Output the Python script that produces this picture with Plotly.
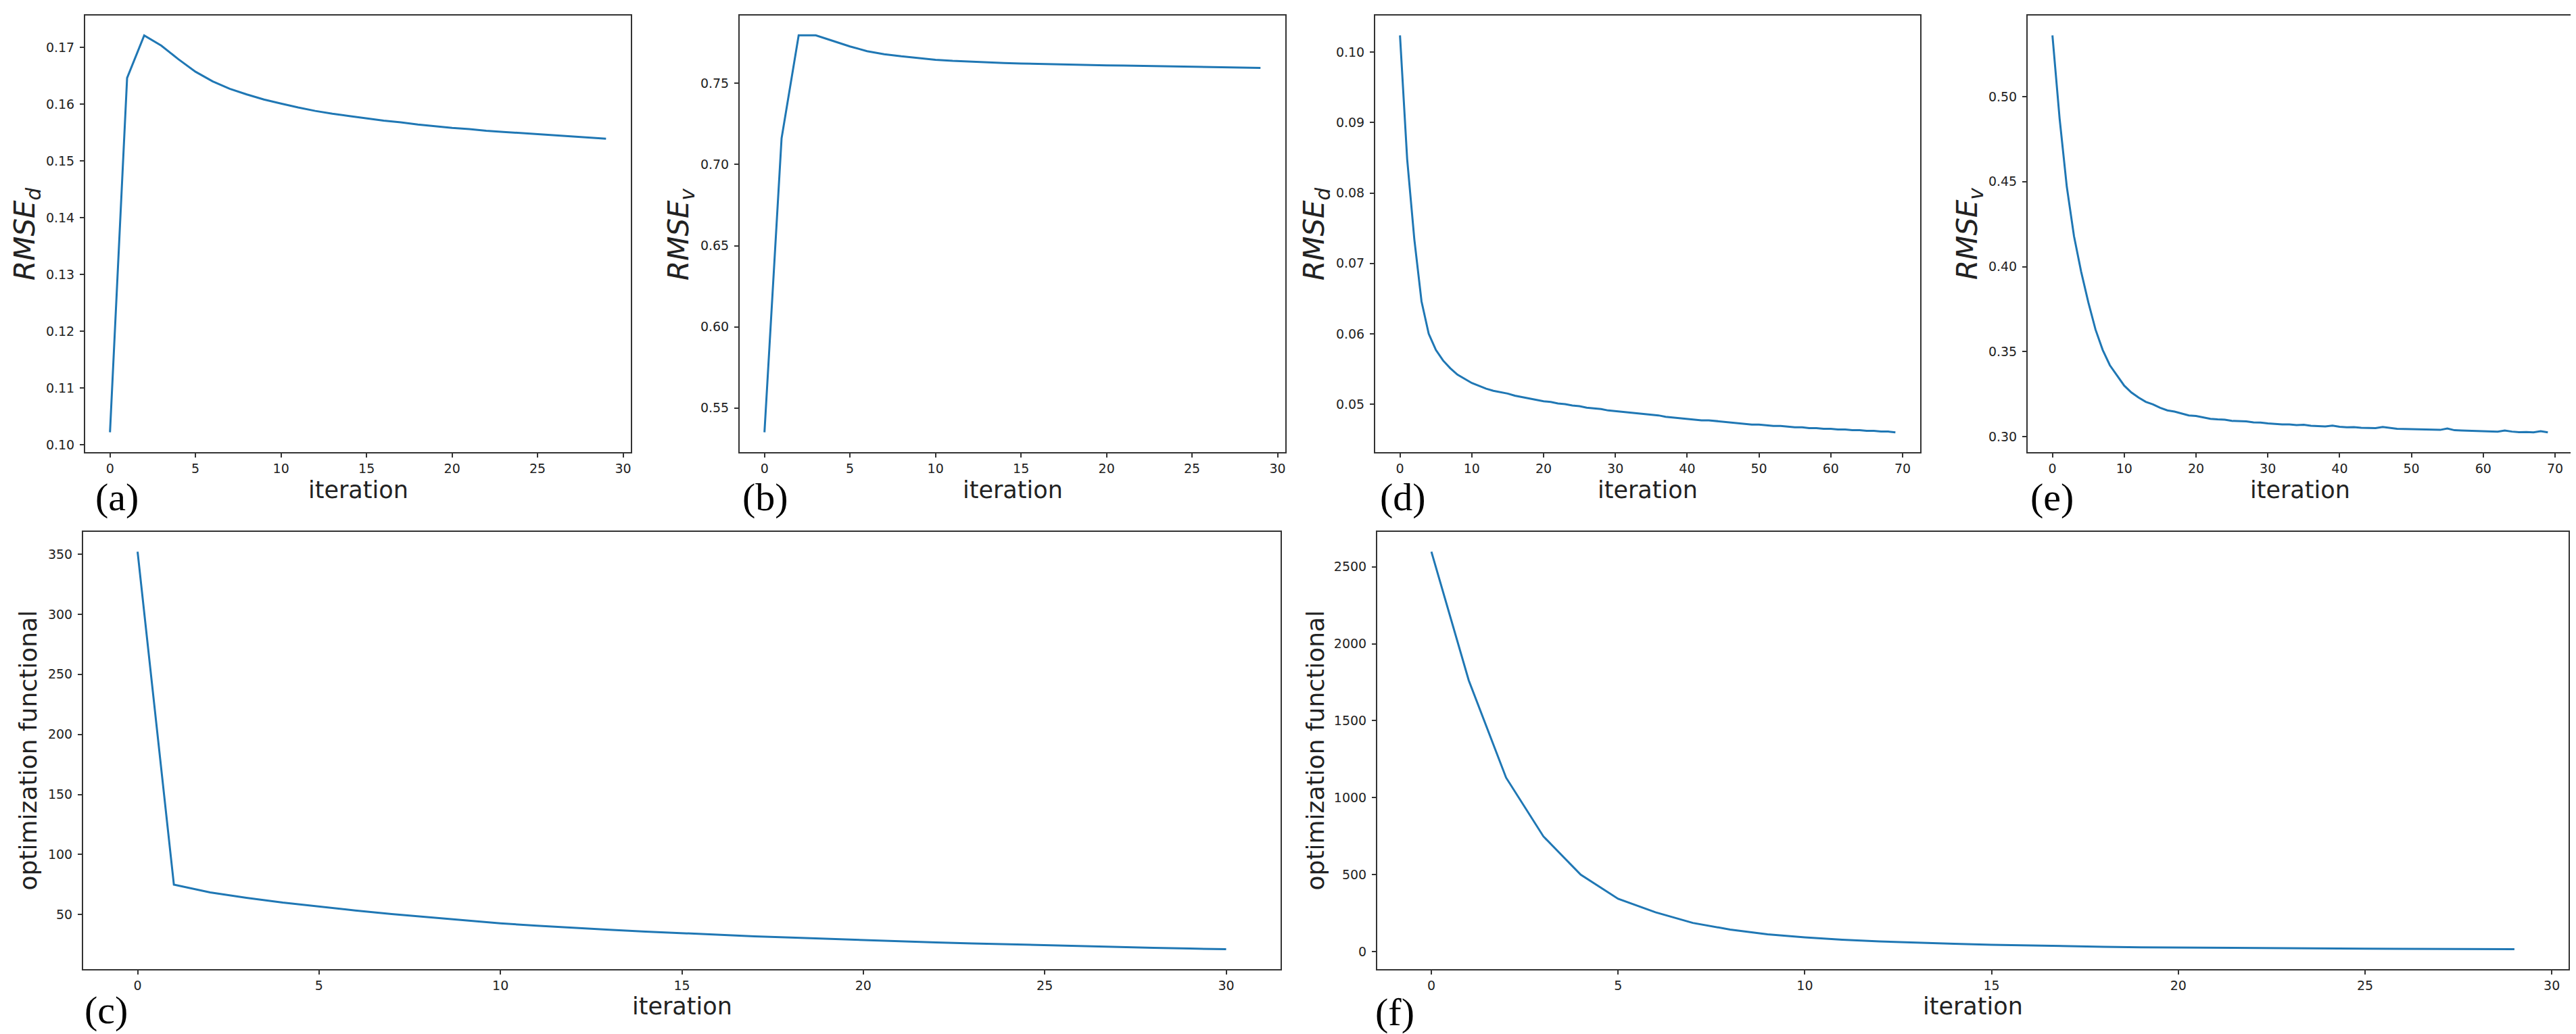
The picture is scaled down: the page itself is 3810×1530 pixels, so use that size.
import plotly.graph_objects as go

W, H = 3810, 1530

# ---------------- data ----------------
iter_a = list(range(30))
rmse_d_a = [0.1022, 0.1646, 0.1721, 0.1703, 0.1679, 0.1657, 0.1640, 0.1627, 0.1617, 0.1608,
            0.1601, 0.1594, 0.1588, 0.1583, 0.1579, 0.1575, 0.1571, 0.1568, 0.1564, 0.1561,
            0.1558, 0.1556, 0.1553, 0.1551, 0.1549, 0.1547, 0.1545, 0.1543, 0.1541, 0.1539]

iter_b = list(range(30))
rmse_v_b = [0.5351, 0.7161, 0.7795, 0.7795, 0.7761, 0.7727, 0.7698, 0.7679, 0.7666, 0.7654,
            0.7645, 0.7638, 0.7633, 0.7628, 0.7625, 0.7622, 0.7619, 0.7617, 0.7614, 0.7612,
            0.7610, 0.7609, 0.7607, 0.7606, 0.7604, 0.7603, 0.7601, 0.7599, 0.7597, 0.7595]

iter_d = list(range(70))
rmse_d_d = [0.1024, 0.0848, 0.0734, 0.0646, 0.0600, 0.0577, 0.0562, 0.0551, 0.0542, 0.0536,
            0.0530, 0.0526, 0.0522, 0.0519, 0.0517, 0.0515, 0.0512, 0.0510, 0.0508, 0.0506,
            0.0504, 0.0503, 0.0501, 0.0500, 0.0498, 0.0497, 0.0495, 0.0494, 0.0493, 0.0491,
            0.0490, 0.0489, 0.0488, 0.0487, 0.0486, 0.0485, 0.0484, 0.0482, 0.0481, 0.0480,
            0.0479, 0.0478, 0.0477, 0.0477, 0.0476, 0.0475, 0.0474, 0.0473, 0.0472, 0.0471,
            0.0471, 0.0470, 0.0469, 0.0469, 0.0468, 0.0467, 0.0467, 0.0466, 0.0466, 0.0465,
            0.0465, 0.0464, 0.0464, 0.0463, 0.0463, 0.0462, 0.0462, 0.0461, 0.0461, 0.0460]

iter_e = list(range(70))
rmse_v_e = [0.536, 0.487, 0.447, 0.418, 0.397, 0.379, 0.363, 0.351, 0.342, 0.336,
            0.330, 0.326, 0.323, 0.3205, 0.319, 0.317, 0.3155, 0.3148, 0.3138, 0.3125,
            0.3122, 0.3115, 0.3105, 0.3102, 0.3100, 0.3093, 0.3090, 0.3090, 0.3084, 0.3083,
            0.3078, 0.3075, 0.3072, 0.3072, 0.3068, 0.3070, 0.3064, 0.3062, 0.3060, 0.3065,
            0.3058, 0.3055, 0.3056, 0.3052, 0.3052, 0.3050, 0.3057, 0.3050, 0.3046, 0.3045,
            0.3044, 0.3043, 0.3045, 0.3041, 0.3040, 0.3048, 0.3038, 0.3036, 0.3035, 0.3034,
            0.3034, 0.3033, 0.3030, 0.3036, 0.3030, 0.3027, 0.3028, 0.3026, 0.3032, 0.3026]

iter_c = list(range(31))
functional_c = [352, 75.0, 68.5, 64.0, 60.0, 56.6, 53.5, 50.5, 47.8, 45.2,
                42.8, 40.8, 39.0, 37.4, 35.9, 34.5, 33.2, 32.0, 30.9, 29.8,
                28.7, 27.8, 26.9, 26.1, 25.3, 24.5, 23.8, 23.1, 22.4, 21.8, 21.2]

iter_f = list(range(30))
functional_f = [2598, 1762, 1130, 748, 499, 343, 255, 186, 143, 112,
                92, 77, 66, 57, 50, 44, 39, 35, 31, 28,
                26, 24, 22, 21, 20, 19, 18, 17, 16, 15]

ticks_a = [0.10, 0.11, 0.12, 0.13, 0.14, 0.15, 0.16, 0.17]
ticks_b = [0.55, 0.60, 0.65, 0.70, 0.75]
ticks_d = [0.05, 0.06, 0.07, 0.08, 0.09, 0.10]
ticks_e = [0.30, 0.35, 0.40, 0.45, 0.50]
ticks_c = [50, 100, 150, 200, 250, 300, 350]
ticks_f = [0, 500, 1000, 1500, 2000, 2500]
xticks_30 = [0, 5, 10, 15, 20, 25, 30]
xticks_70 = [0, 10, 20, 30, 40, 50, 60, 70]

# ---------------- layout helpers ----------------
LINE = "#1f77b4"
FONT = "DejaVu Sans, Noto Sans, sans-serif"
SERIF = "Liberation Serif, DejaVu Serif, serif"
TXT = "#222222"


def px(x):
    return x / W


def py(y):
    return 1 - y / H


def pad(vals):
    lo, hi = min(vals), max(vals)
    r = hi - lo
    return [lo - 0.05 * r, hi + 0.05 * r]


panels = [
    ("a", iter_a, rmse_d_a, 118, 925, 15, 661, ticks_a, ".2f", xticks_30,
     "RMSE<sub>d</sub>", 31, "(a)", 131, 727, 717),
    ("b", iter_b, rmse_v_b, 1086, 1893, 15, 661, ticks_b, ".2f", xticks_30,
     "RMSE<sub>v</sub>", 998, "(b)", 1088, 727, 717),
    ("d", iter_d, rmse_d_d, 2026, 2832, 15, 661, ticks_d, ".2f", xticks_70,
     "RMSE<sub>d</sub>", 1938, "(d)", 2031, 727, 717),
    ("e", iter_e, rmse_v_e, 2991, 3797, 15, 661, ticks_e, ".2f", xticks_70,
     "RMSE<sub>v</sub>", 2904, "(e)", 2993, 727, 717),
    ("c", iter_c, functional_c, 115, 1886, 779, 1426, ticks_c, "d", xticks_30,
     "optimization functional", 33, "(c)", 115, 1486, 1481),
    ("f", iter_f, functional_f, 2029, 3791, 779, 1426, ticks_f, "d", xticks_30,
     "optimization functional", 1937, "(f)", 2024, 1489, 1481),
]

fig = go.Figure()
annotations = []
layout = dict(
    width=W, height=H,
    margin=dict(l=0, r=0, t=0, b=0),
    paper_bgcolor="white", plot_bgcolor="white",
    showlegend=False,
    font=dict(family=FONT, color=TXT, size=19),
)

for i, (name, xs, ys, L, R, T, B, yt, yfmt, xt, ytitle, ytx,
        lab, labx, laby, xty) in enumerate(panels):
    k = "" if i == 0 else str(i + 1)
    fig.add_trace(go.Scatter(x=xs, y=ys, mode="lines",
                             line=dict(color=LINE, width=3),
                             xaxis="x" + k, yaxis="y" + k,
                             hoverinfo="skip"))
    xr = [min(xs) - 0.05 * (max(xs) - min(xs)), max(xs) + 0.05 * (max(xs) - min(xs))]
    common = dict(showgrid=False, zeroline=False, showline=True, mirror=True,
                  linecolor="#333333", linewidth=2,
                  ticks="outside", ticklen=6, tickwidth=1.5, tickcolor="#333333",
                  tickfont=dict(family=FONT, size=19, color=TXT))
    layout["xaxis" + k] = dict(common, domain=[px(L), px(R)], range=xr,
                               tickmode="array", tickvals=xt,
                               anchor="y" + k)
    layout["yaxis" + k] = dict(common, domain=[py(B), py(T)], range=pad(ys),
                               tickmode="array", tickvals=yt,
                               tickformat=yfmt, anchor="x" + k,
                               ticklabelstandoff=4)
    is_rmse = "RMSE" in ytitle
    annotations.append(dict(text=ytitle, x=px(ytx), y=py((T + B) / 2),
                            xref="paper", yref="paper", xanchor="center",
                            yanchor="middle", textangle=-90, showarrow=False,
                            font=dict(family=FONT, size=42 if is_rmse else 36,
                                      color=TXT,
                                      style="italic" if is_rmse else "normal")))
    annotations.append(dict(text="iteration", x=px((L + R) / 2), y=py(xty),
                            xref="paper", yref="paper", xanchor="center",
                            yanchor="middle", showarrow=False,
                            font=dict(family=FONT, size=35, color=TXT)))
    annotations.append(dict(text=lab, x=px(labx), y=py(laby),
                            xref="paper", yref="paper", xanchor="left",
                            yanchor="middle", showarrow=False,
                            font=dict(family=SERIF, size=58, color="black")))

layout["annotations"] = annotations
fig.update_layout(**layout)
fig.write_html("out.html")
